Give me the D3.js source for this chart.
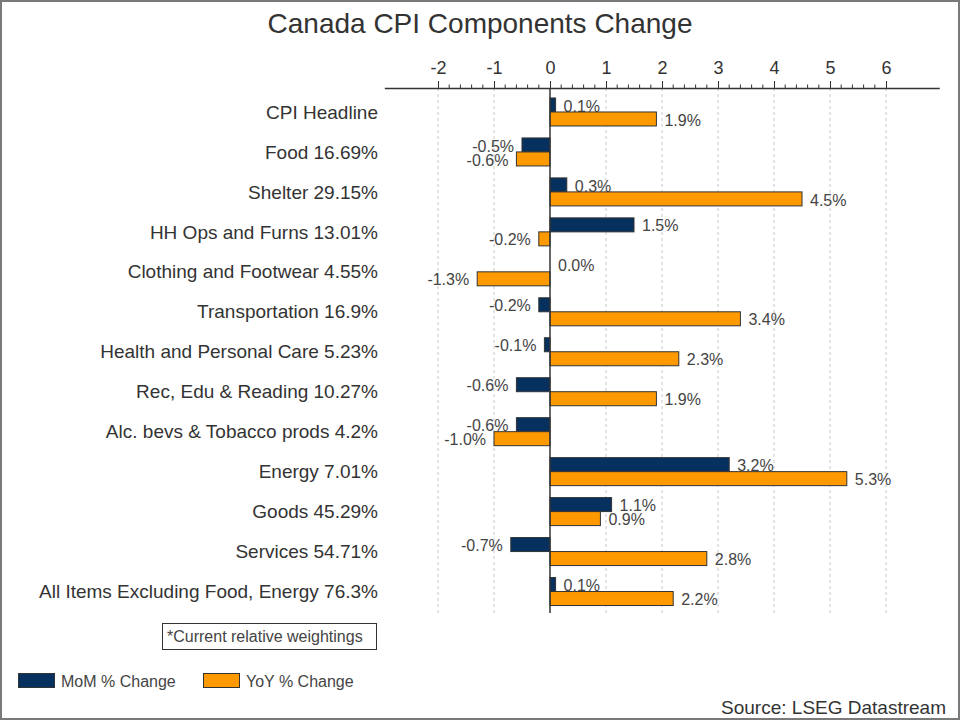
<!DOCTYPE html>
<html>
<head>
<meta charset="utf-8">
<script src="https://cdn.jsdelivr.net/npm/d3@7"></script>
<style>
  html, body { margin: 0; padding: 0; background: #fff; }
  svg { display: block; font-family: "Liberation Sans", Arial, sans-serif; }
</style>
</head>
<body>
<svg id="chart" width="960" height="720"></svg>
<script>
const categories = [
  "CPI Headline",
  "Food 16.69%",
  "Shelter 29.15%",
  "HH Ops and Furns 13.01%",
  "Clothing and Footwear 4.55%",
  "Transportation 16.9%",
  "Health and Personal Care 5.23%",
  "Rec, Edu & Reading 10.27%",
  "Alc. bevs & Tobacco prods 4.2%",
  "Energy 7.01%",
  "Goods 45.29%",
  "Services 54.71%",
  "All Items Excluding Food, Energy 76.3%"
];
const momValues = [0.1, -0.5, 0.3, 1.5, 0.0, -0.2, -0.1, -0.6, -0.6, 3.2, 1.1, -0.7, 0.1];
const yoyValues = [1.9, -0.6, 4.5, -0.2, -1.3, 3.4, 2.3, 1.9, -1.0, 5.3, 0.9, 2.8, 2.2];
const seriesNames = ["MoM % Change", "YoY % Change"];
const seriesColors = ["#06315f", "#ff9900"];
const xTickValues = [-2, -1, 0, 1, 2, 3, 4, 5, 6];
const titleText = "Canada CPI Components Change";
const noteText = "*Current relative weightings";
const sourceText = "Source: LSEG Datastream";

const svg = d3.select("#chart");
const W = 960, H = 720;

svg.append("rect").attr("x", 1).attr("y", 1).attr("width", W - 2).attr("height", H - 2)
  .attr("fill", "#fff").attr("stroke", "#7a7a7a").attr("stroke-width", 2);

svg.append("text").attr("x", 480).attr("y", 23).attr("dy", "0.35em").attr("text-anchor", "middle")
  .attr("font-size", 28).attr("fill", "#333").text(titleText);

const x = d3.scaleLinear().domain([-3, 7]).range([382, 942]);
const y = d3.scaleBand().domain(categories).range([92, 611.5]);
const barH = 14;
const axisY = 88;
const plotBottom = 613;

// grid lines
svg.append("g").selectAll("line").data(xTickValues.filter(v => v !== 0)).join("line")
  .attr("x1", d => x(d)).attr("x2", d => x(d))
  .attr("y1", axisY).attr("y2", plotBottom)
  .attr("stroke", "#c8c8c8").attr("stroke-width", 1).attr("stroke-dasharray", "3,3");

// top axis
const axisG = svg.append("g").attr("transform", `translate(0,${axisY})`);
const axis = d3.axisTop(x).tickValues(xTickValues).tickSize(7).tickPadding(7)
  .tickFormat(d => String(d));
axisG.call(axis);
axisG.select(".domain").remove();
axisG.selectAll(".tick line").attr("stroke", "#333");
axisG.selectAll(".tick text").attr("font-size", 18).attr("fill", "#333")
  .attr("font-family", "Liberation Sans, Arial, sans-serif");
const minor = d3.range(-2, 6.001, 0.2).filter(v => Math.abs(v - Math.round(v)) > 1e-6);
axisG.append("g").selectAll("line").data(minor).join("line")
  .attr("x1", d => x(d)).attr("x2", d => x(d)).attr("y1", 0).attr("y2", -3.5)
  .attr("stroke", "#333").attr("stroke-width", 1);
axisG.append("line").attr("x1", x(-2.95)).attr("x2", x(6.96)).attr("y1", 0.5).attr("y2", 0.5)
  .attr("stroke", "#333").attr("stroke-width", 1.5);

// bars
const rows = categories.map((c, i) => ({ c, vals: [momValues[i], yoyValues[i]] }));
const rowG = svg.append("g").selectAll("g").data(rows).join("g")
  .attr("transform", d => `translate(0,${y(d.c) + y.bandwidth() / 2})`);

rowG.each(function(d) {
  const g = d3.select(this);
  d.vals.forEach((v, s) => {
    const y0 = s === 0 ? -barH : 0;
    g.append("rect")
      .attr("x", Math.min(x(0), x(v)))
      .attr("y", y0)
      .attr("width", Math.abs(x(v) - x(0)))
      .attr("height", barH)
      .attr("fill", seriesColors[s])
      .attr("stroke", "#333").attr("stroke-width", Math.abs(v) > 0 ? 1 : 0);
    g.append("text")
      .attr("x", v < 0 ? x(v) - 8 : x(v) + 8)
      .attr("y", y0 + barH / 2 + 1)
      .attr("dy", "0.35em")
      .attr("text-anchor", v < 0 ? "end" : "start")
      .attr("font-size", 16).attr("fill", "#444")
      .text(v.toFixed(1) + "%");
  });
});

// zero line
svg.append("line").attr("x1", x(0)).attr("x2", x(0)).attr("y1", axisY).attr("y2", plotBottom)
  .attr("stroke", "#333").attr("stroke-width", 1.5);

// category labels
svg.append("g").selectAll("text").data(categories).join("text")
  .attr("x", 378).attr("y", d => y(d) + y.bandwidth() / 2)
  .attr("dy", "0.35em").attr("text-anchor", "end")
  .attr("font-size", 19).attr("fill", "#333").text(d => d);

// note box
svg.append("rect").attr("x", 162.5).attr("y", 623.5).attr("width", 214).attr("height", 26)
  .attr("fill", "#fff").attr("stroke", "#333").attr("stroke-width", 1);
svg.append("text").attr("x", 167).attr("y", 636.5).attr("dy", "0.35em")
  .attr("font-size", 16).attr("fill", "#444").text(noteText);

// legend
const legendX = [18, 203];
seriesNames.forEach((n, i) => {
  svg.append("rect").attr("x", legendX[i] + 0.5).attr("y", 673.5).attr("width", 36).attr("height", 14)
    .attr("fill", seriesColors[i]).attr("stroke", "#333").attr("stroke-width", 1);
  svg.append("text").attr("x", legendX[i] + 43).attr("y", 681).attr("dy", "0.35em")
    .attr("font-size", 16).attr("fill", "#444").text(n);
});

// source
svg.append("text").attr("x", 946).attr("y", 707).attr("dy", "0.35em").attr("text-anchor", "end")
  .attr("font-size", 19).attr("fill", "#333").text(sourceText);
</script>
</body>
</html>
